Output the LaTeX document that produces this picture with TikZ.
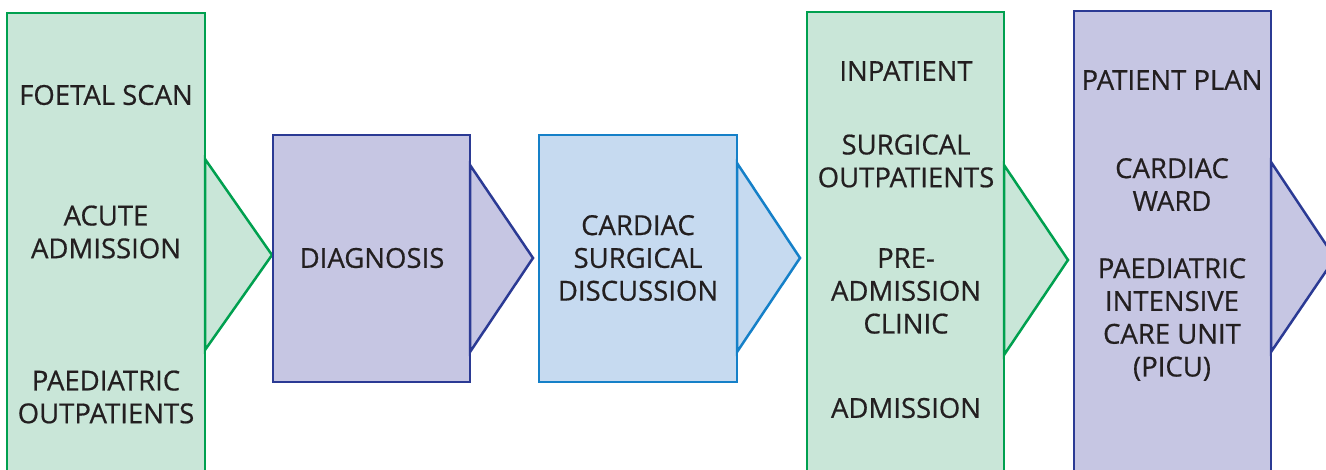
\documentclass[tikz,border=0pt]{standalone}
\usepackage{fontspec}
\setmainfont[FakeBold=0.6]{Open Sans}
\definecolor{gfill}{HTML}{C9E6D8}
\definecolor{gline}{HTML}{00A04F}
\definecolor{pfill}{HTML}{C6C6E3}
\definecolor{pline}{HTML}{2B3A94}
\definecolor{bfill}{HTML}{C6DAF0}
\definecolor{bline}{HTML}{1580C8}
\definecolor{txt}{HTML}{231F20}
\tikzset{
  greenbox/.style={fill=gfill,draw=gline,line width=2.5pt,line join=miter},
  purplebox/.style={fill=pfill,draw=pline,line width=2.5pt,line join=miter},
  bluebox/.style={fill=bfill,draw=bline,line width=2.5pt,line join=miter},
  lbl/.style={text=txt,align=center,inner sep=0pt,font=\fontsize{27.5}{32.8}\selectfont}
}
\begin{document}
\begin{tikzpicture}[x=1pt,y=-1pt]
\useasboundingbox (0,0) rectangle (1326,469);
\clip (0,0) rectangle (1326,469);
% box 1
\draw[greenbox] (7,13) rectangle (205,480);
\draw[greenbox] (205,159) -- (272,255) -- (205,350) -- cycle;
% box 2
\draw[purplebox] (273,135) rectangle (470,382);
\draw[purplebox] (470,165) -- (533,258) -- (470,352) -- cycle;
% box 3
\draw[bluebox] (539,135) rectangle (737,382);
\draw[bluebox] (737,163) -- (800,258) -- (737,352) -- cycle;
% box 4
\draw[greenbox] (807,12) rectangle (1004,480);
\draw[greenbox] (1004,165) -- (1068,260) -- (1004,355) -- cycle;
% box 5
\draw[purplebox] (1074,11) rectangle (1271,480);
\draw[purplebox] (1271,162) -- (1335,258) -- (1271,352) -- cycle;

\node[lbl] (foetal) at (106,95) {FOETAL SCAN};
\node[lbl] (acute) at (106,232) {ACUTE\\ADMISSION};
\node[lbl] (paedout) at (106,397) {PAEDIATRIC\\OUTPATIENTS};
\node[lbl] (diag) at (372,258) {DIAGNOSIS};
\node[lbl] (csd) at (638,258) {CARDIAC\\SURGICAL\\DISCUSSION};
\node[lbl] (inpat) at (906,71) {INPATIENT};
\node[lbl] (surgout) at (906,161) {SURGICAL\\OUTPATIENTS};
\node[lbl] (preadm) at (906,291) {PRE-\\ADMISSION\\CLINIC};
\node[lbl] (adm) at (906,408) {ADMISSION};
\node[lbl] (plan) at (1172,80) {PATIENT PLAN};
\node[lbl] (ward) at (1172,184.5) {CARDIAC\\WARD};
\node[lbl] (picu) at (1172,319.5) {PAEDIATRIC\\INTENSIVE\\CARE UNIT\\(PICU)};
\end{tikzpicture}
\end{document}
